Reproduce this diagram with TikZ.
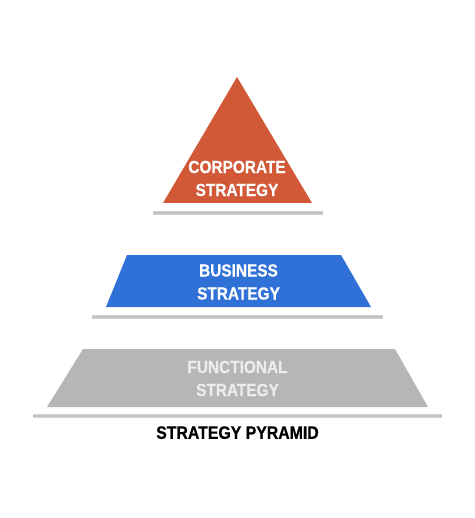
\documentclass[tikz,border=0pt]{standalone}
\usepackage{fontspec}
\setmainfont{Liberation Sans}
\newfontfamily\pyrfont{Liberation Sans Bold}[FakeStretch=0.88, FakeBold=0.6]
\usepackage{tikz}
\usetikzlibrary{positioning}
\usetikzlibrary{shapes.geometric}
\definecolor{corp}{RGB}{209,89,56}
\definecolor{busi}{RGB}{47,113,214}
\definecolor{func}{RGB}{182,182,182}
\definecolor{functext}{RGB}{236,236,236}

\begin{document}
\begin{tikzpicture}
[
x=1pt, y=-1pt,
text-a/.style={font=\pyrfont\fontsize{17.5}{23}\selectfont, align=center},
shadow-a/.style={line width=4pt, black!18},
shadow-b/.style={line width=1.5pt, black!24},
]
\useasboundingbox (0,0) rectangle (474,518);
% top of the pyramid
\fill [corp] (237,77) -- (312,203) -- (163,203) -- cycle;
\node (lc) [text-a, text=white] at (237,178.5) {CORPORATE\\STRATEGY};
% middle layer
\fill [busi] (127,255) -- (341,255) -- (371,307) -- (106,307) -- cycle;
\node (lb) [text-a, text=white] at (238.5,282) {BUSINESS\\STRATEGY};
% bottom layer
\fill [func] (83,349) -- (395,349) -- (428,407) -- (47,407) -- cycle;
\node (lf) [text-a, text=functext] at (237.5,378.5) {FUNCTIONAL\\STRATEGY};
\node (lt) [text-a, font=\pyrfont\fontsize{18}{20}\selectfont, below=23pt of lf] {STRATEGY PYRAMID};
% shadows
\coordinate (sc1) at (153,213); \coordinate (sc2) at (323,213);
\coordinate (sb1) at (92,317);  \coordinate (sb2) at (383,317);
\coordinate (sf1) at (33,416);  \coordinate (sf2) at (442,416);
\foreach \a/\b in {sc1/sc2, sb1/sb2, sf1/sf2} {
  \draw [shadow-a] (\a) -- (\b);
  \draw [shadow-b] (\a) -- (\b);
}
\end{tikzpicture}
\end{document}
